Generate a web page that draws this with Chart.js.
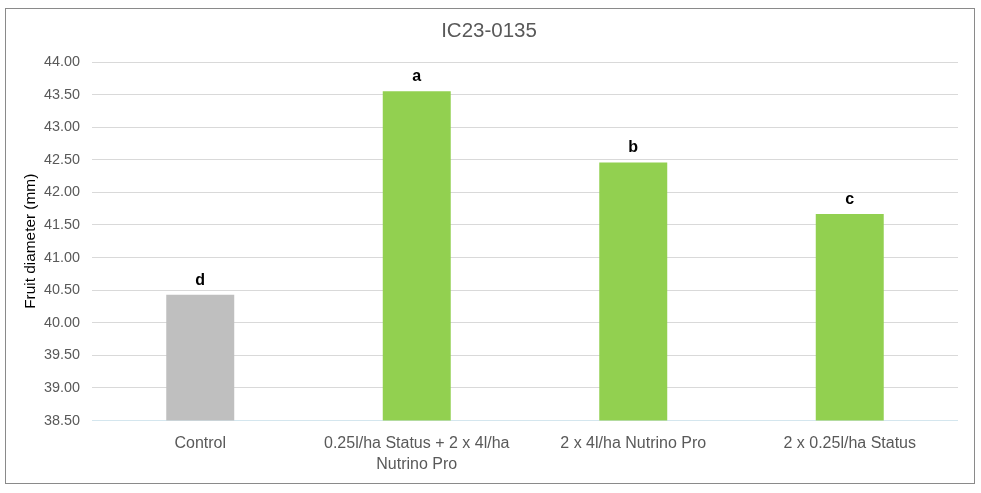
<!DOCTYPE html>
<html>
<head>
<meta charset="utf-8">
<script src="https://cdn.jsdelivr.net/npm/chart.js@4"></script>
<style>
  html, body { margin: 0; padding: 0; background: #fff; }
  #wrap { position: absolute; left: 0; top: 0; width: 981px; height: 493px; }
</style>
</head>
<body>
<div id="wrap"><canvas id="c" width="981" height="493"></canvas></div>
<script>
const chartTitle = "IC23-0135";
const categories = [
  "Control",
  ["0.25l/ha Status + 2 x 4l/ha", "Nutrino Pro"],
  "2 x 4l/ha Nutrino Pro",
  "2 x 0.25l/ha Status"
];
const values = [40.43, 43.55, 42.46, 41.67];
const letters = ["d", "a", "b", "c"];
const barColors = ["#bfbfbf", "#92d050", "#92d050", "#92d050"];
const yMin = 38.5;
const yMax = 44;
const yStep = 0.5;
const yTitle = "Fruit diameter (mm)";

const FONT = "'Liberation Sans', Arial, sans-serif";

const borderPlugin = {
  id: 'frame',
  beforeDraw(chart) {
    const ctx = chart.ctx;
    ctx.save();
    ctx.fillStyle = '#fff';
    ctx.fillRect(0, 0, chart.width, chart.height);
    ctx.strokeStyle = '#8a8a8a';
    ctx.lineWidth = 1;
    ctx.strokeRect(5.5, 8.5, 969, 475);
    ctx.restore();
  }
};

const letterPlugin = {
  id: 'letters',
  afterDatasetsDraw(chart) {
    const ctx = chart.ctx;
    const meta = chart.getDatasetMeta(0);
    ctx.save();
    ctx.font = "bold 16px " + FONT;
    ctx.fillStyle = '#000';
    ctx.textAlign = 'center';
    ctx.textBaseline = 'alphabetic';
    meta.data.forEach((bar, i) => {
      ctx.fillText(letters[i], bar.x, bar.y - 10);
    });
    ctx.restore();
  }
};

new Chart(document.getElementById('c'), {
  type: 'bar',
  data: {
    labels: categories,
    datasets: [{
      data: values,
      backgroundColor: barColors,
      borderWidth: 0,
      categoryPercentage: 1,
      barPercentage: 0.314
    }]
  },
  options: {
    responsive: false,
    animation: false,
    devicePixelRatio: 1,
    layout: { padding: { left: 20, right: 23, top: 0, bottom: 5.5 } },
    plugins: {
      legend: { display: false },
      tooltip: { enabled: false },
      title: {
        display: true,
        text: chartTitle,
        color: '#595959',
        font: { family: FONT, size: 20.5, weight: 'normal', lineHeight: 1.2 },
        padding: { top: 18.7, bottom: 18.7 }
      }
    },
    scales: {
      x: {
        grid: { display: false, drawTicks: false },
        border: { display: false },
        ticks: {
          color: '#595959',
          padding: 12.5,
          maxRotation: 0,
          autoSkip: false,
          font: { family: FONT, size: 16, lineHeight: 1.31 }
        }
      },
      y: {
        min: yMin,
        max: yMax,
        afterFit(scale) { scale.width = 72; },
        grid: {
          drawTicks: false,
          color: (ctx) => ctx.tick && ctx.tick.value === yMin ? '#d4e6ee' : '#d9d9d9',
          lineWidth: 1
        },
        border: { display: false },
        ticks: {
          stepSize: yStep,
          color: '#595959',
          padding: 12,
          font: { family: FONT, size: 14.4 },
          callback: (v) => Number(v).toFixed(2)
        },
        title: {
          display: true,
          text: yTitle,
          color: '#000',
          padding: { top: 1.8, bottom: 0 },
          font: { family: FONT, size: 15.4, lineHeight: 1.2 }
        }
      }
    }
  },
  plugins: [borderPlugin, letterPlugin]
});
</script>
</body>
</html>
